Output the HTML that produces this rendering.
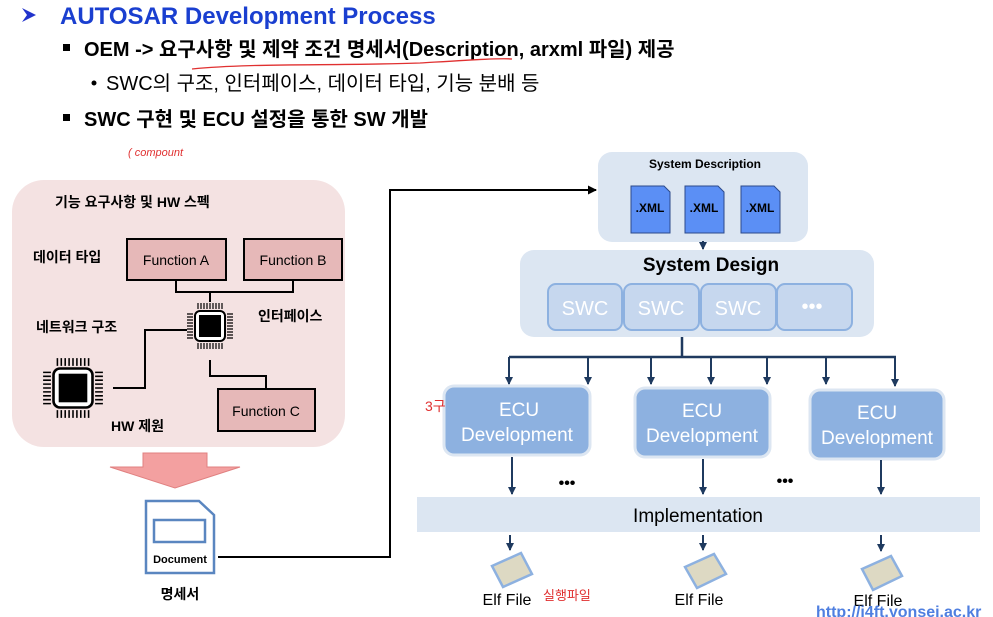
<!DOCTYPE html>
<html><head><meta charset="utf-8"><style>
body{margin:0;width:993px;height:617px;background:#fff;position:relative;overflow:hidden;font-family:"Liberation Sans","Noto Sans CJK KR",sans-serif}
</style></head><body>
<svg width="993" height="617" style="position:absolute;left:0;top:0" font-family="Liberation Sans, Noto Sans CJK KR, sans-serif">
<defs>
<marker id="ah" markerWidth="8" markerHeight="8" refX="7" refY="4" orient="auto" markerUnits="userSpaceOnUse"><path d="M0,0 L8,4 L0,8z" fill="#1f3a5f"/></marker>
<marker id="ak" markerWidth="9" markerHeight="9" refX="8" refY="4.5" orient="auto" markerUnits="userSpaceOnUse"><path d="M0,0 L9,4.5 L0,9z" fill="#000"/></marker>
<g id="chip"><rect x="-15" y="-15" width="30" height="30" rx="5" fill="#fff" stroke="#000" stroke-width="2"/><rect x="-11" y="-11" width="22" height="22" fill="#000"/>
<path d="M-12,-17v-6M-9,-17v-6M-6,-17v-6M-3,-17v-6M0,-17v-6M3,-17v-6M6,-17v-6M9,-17v-6M12,-17v-6M-12,17v6M-9,17v6M-6,17v6M-3,17v6M0,17v6M3,17v6M6,17v6M9,17v6M12,17v6M-17,-12h-6M-17,-9h-6M-17,-6h-6M-17,-3h-6M-17,0h-6M-17,3h-6M-17,6h-6M-17,9h-6M-17,12h-6M17,-12h6M17,-9h6M17,-6h6M17,-3h6M17,0h6M17,3h6M17,6h6M17,9h6M17,12h6" stroke="#000" stroke-width="1.2"/></g>
</defs>
<path d="M22,8 L36,15 L22,22 L27,15z" fill="#2233cc"/>
<text x="60" y="24" font-size="24" font-weight="bold" fill="#1a3fd0">AUTOSAR Development Process</text>
<rect x="63" y="44" width="7" height="7" fill="#000"/>
<text x="84" y="56" font-size="20" font-weight="bold">OEM -&gt; 요구사항 및 제약 조건 명세서(Description, arxml 파일) 제공</text>
<path d="M192,69 C250,63 330,66 420,63 C470,60 500,58 512,59" stroke="#e03030" fill="none" stroke-width="1.3"/>
<circle cx="94" cy="83" r="2.5" fill="#000"/>
<text x="106" y="90" font-size="20">SWC의 구조, 인터페이스, 데이터 타입, 기능 분배 등</text>
<rect x="63" y="114" width="7" height="7" fill="#000"/>
<text x="84" y="126" font-size="20" font-weight="bold">SWC 구현 및 ECU 설정을 통한 SW 개발</text>
<text x="128" y="156" font-size="11" fill="#e03030" font-style="italic">( compount</text>
<rect x="12" y="180" width="333" height="267" rx="32" fill="#f4e2e2"/>
<text x="55" y="207" font-size="14" font-weight="bold">기능 요구사항 및 HW 스펙</text>
<text x="33" y="262" font-size="14" font-weight="bold">데이터 타입</text>
<text x="36" y="332" font-size="14" font-weight="bold">네트워크 구조</text>
<text x="258" y="321" font-size="14" font-weight="bold">인터페이스</text>
<text x="111" y="431" font-size="14" font-weight="bold">HW 제원</text>
<path d="M176,280 V292 H293 V280 M210,292 V302 M210,360 V376 H266 V388 M187,330 H145 V388 H113" stroke="#000" stroke-width="2" fill="none"/>
<rect x="127" y="239" width="99" height="41" fill="#e6b8b8" stroke="#000" stroke-width="2"/>
<text x="176" y="265" font-size="14" text-anchor="middle">Function A</text>
<rect x="244" y="239" width="98" height="41" fill="#e6b8b8" stroke="#000" stroke-width="2"/>
<text x="293" y="265" font-size="14" text-anchor="middle">Function B</text>
<rect x="218" y="389" width="97" height="42" fill="#e6b8b8" stroke="#000" stroke-width="2"/>
<text x="266" y="416" font-size="14" text-anchor="middle">Function C</text>
<use href="#chip" x="210" y="326"/>
<use href="#chip" transform="translate(73,388) scale(1.3)"/>
<path d="M143,453 H207 V467 H240 L175,488 L110,467 H143z" fill="#f3a0a0" stroke="#e08080"/>
<path d="M146,501 H199 L214,515 V573 H146z" fill="#fff" stroke="#5a86c0" stroke-width="2.5"/>
<rect x="154" y="520" width="51" height="22" fill="none" stroke="#5a86c0" stroke-width="2.5"/>
<text x="180" y="563" font-size="11" font-weight="bold" text-anchor="middle">Document</text>
<text x="180" y="599" font-size="14" font-weight="bold" text-anchor="middle">명세서</text>
<path d="M218,557 H390 V190 H596" stroke="#000" stroke-width="2" fill="none" marker-end="url(#ak)"/>
<rect x="598" y="152" width="210" height="90" rx="14" fill="#dce6f2"/>
<text x="705" y="168" font-size="12" font-weight="bold" text-anchor="middle">System Description</text>
<g font-size="12" font-weight="bold" text-anchor="middle">
<path d="M631,186 H664 L670,192 V233 H631z" fill="#5b8ff5" stroke="#2c4a8a"/><text x="650" y="212">.XML</text>
<path d="M685,186 H718 L724,192 V233 H685z" fill="#5b8ff5" stroke="#2c4a8a"/><text x="704" y="212">.XML</text>
<path d="M741,186 H774 L780,192 V233 H741z" fill="#5b8ff5" stroke="#2c4a8a"/><text x="760" y="212">.XML</text>
</g>
<path d="M703,241 V249" stroke="#1f3a5f" stroke-width="2" marker-end="url(#ah)"/>
<rect x="520" y="250" width="354" height="87" rx="14" fill="#dce6f2"/>
<text x="711" y="271" font-size="19" font-weight="bold" text-anchor="middle">System Design</text>
<g fill="#c6d7ee" stroke="#8db1e0" stroke-width="2">
<rect x="548" y="284" width="74" height="46" rx="8"/><rect x="624" y="284" width="75" height="46" rx="8"/><rect x="701" y="284" width="75" height="46" rx="8"/><rect x="777" y="284" width="75" height="46" rx="8"/></g>
<g font-size="20" fill="#fff" text-anchor="middle"><text x="585" y="315">SWC</text><text x="661" y="315">SWC</text><text x="738" y="315">SWC</text><text x="812" y="313">•••</text></g>
<path d="M682,337 V357 M509,357 H896" stroke="#1f3a5f" stroke-width="2.5" fill="none"/>
<g stroke="#1f3a5f" stroke-width="2" marker-end="url(#ah)">
<path d="M509,357 V384"/><path d="M588,357 V384"/><path d="M651,357 V384"/><path d="M711,357 V384"/><path d="M767,357 V384"/><path d="M826,357 V384"/><path d="M895,357 V386"/></g>
<g fill="#8db1e0" stroke="#dce6f2" stroke-width="3">
<rect x="444" y="386" width="146" height="69" rx="10"/><rect x="635" y="388" width="135" height="69" rx="10"/><rect x="810" y="390" width="134" height="69" rx="10"/></g>
<g font-size="19" fill="#fff" text-anchor="middle">
<text x="519" y="416">ECU</text><text x="517" y="441">Development</text>
<text x="702" y="417">ECU</text><text x="702" y="442">Development</text>
<text x="877" y="419">ECU</text><text x="877" y="444">Development</text></g>
<text x="425" y="411" font-size="14" fill="#e03030">3구</text>
<g stroke="#1f3a5f" stroke-width="2" marker-end="url(#ah)">
<path d="M512,457 V494"/><path d="M703,459 V494"/><path d="M881,460 V494"/></g>
<text x="567" y="488" font-size="16" font-weight="bold" text-anchor="middle">•••</text>
<text x="785" y="486" font-size="16" font-weight="bold" text-anchor="middle">•••</text>
<rect x="417" y="497" width="563" height="35" fill="#dce6f2"/>
<text x="698" y="522" font-size="19" text-anchor="middle">Implementation</text>
<g stroke="#1f3a5f" stroke-width="2" marker-end="url(#ah)">
<path d="M510,535 V550"/><path d="M703,535 V550"/><path d="M881,535 V551"/></g>
<g fill="#ddd9c3" stroke="#8db1e0" stroke-width="2.5">
<path d="M492,566 L521,553 L532,574 L503,587z"/><path d="M685,567 L714,554 L726,574 L697,588z"/><path d="M862,569 L891,556 L902,576 L873,590z"/></g>
<g font-size="16" text-anchor="middle"><text x="507" y="605">Elf File</text><text x="699" y="605">Elf File</text><text x="878" y="606">Elf File</text></g>
<text x="543" y="600" font-size="13" fill="#e03030">실행파일</text>
<text x="816" y="617" font-size="16" font-weight="bold" fill="#4f7fe0">http://i4ft.yonsei.ac.kr</text>
</svg>
</body></html>
